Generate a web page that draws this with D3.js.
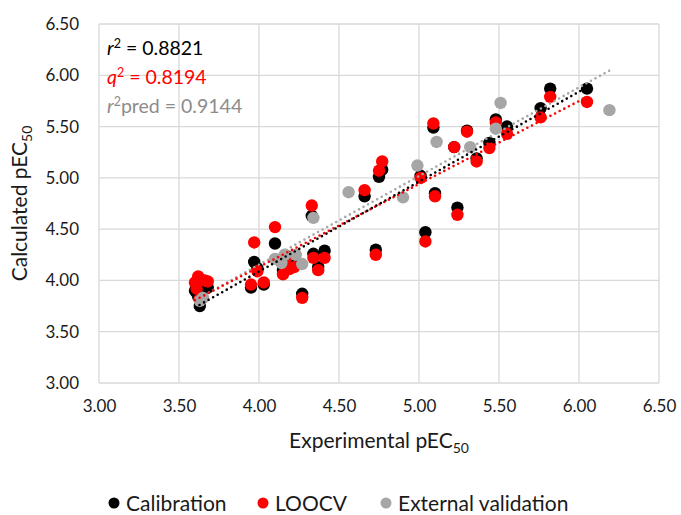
<!DOCTYPE html>
<html>
<head>
<meta charset="utf-8">
<script src="https://cdn.jsdelivr.net/npm/d3@7"></script>
<style>
  body { margin: 0; background: #fff; }
  text { font-family: Lato, "Open Sans", sans-serif; }
</style>
</head>
<body>
<div id="chart"></div>
<script>
// experimental pEC50 for the calibration compounds
const expCal = [3.60, 3.61, 3.62, 3.63, 3.66, 3.68, 3.95, 3.97, 3.99, 4.03,
  4.10, 4.15, 4.17, 4.19, 4.22, 4.27, 4.33, 4.34, 4.37, 4.41,
  4.66, 4.73, 4.75, 4.77, 5.01, 5.04, 5.09, 5.10, 5.22, 5.24,
  5.30, 5.36, 5.44, 5.48, 5.55, 5.76, 5.82, 6.05];
// calculated (fit)
const calcCal = [3.90, 3.88, 3.84, 3.75, 3.95, 3.93, 3.93, 4.18, 4.12, 3.96,
  4.36, 4.10, 4.24, 4.14, 4.17, 3.87, 4.63, 4.26, 4.13, 4.29,
  4.82, 4.30, 5.01, 5.08, 5.02, 4.47, 5.49, 4.85, 5.30, 4.71,
  5.46, 5.19, 5.34, 5.57, 5.50, 5.68, 5.87, 5.87];
// leave-one-out predictions
const calcLoo = [3.98, 3.92, 4.04, 3.82, 4.00, 3.99, 3.96, 4.37, 4.09, 3.98,
  4.52, 4.06, 4.22, 4.11, 4.13, 3.83, 4.73, 4.22, 4.10, 4.22,
  4.88, 4.25, 5.07, 5.16, 5.00, 4.38, 5.53, 4.82, 5.30, 4.64,
  5.45, 5.16, 5.29, 5.54, 5.43, 5.59, 5.79, 5.74];
// external validation set
const expExt = [3.63, 3.65, 4.10, 4.14, 4.16, 4.23, 4.27, 4.34, 4.56, 4.90,
  4.99, 5.11, 5.32, 5.48, 5.51, 6.19];
const calcExt = [3.80, 3.83, 4.21, 4.17, 4.25, 4.25, 4.16, 4.61, 4.86, 4.81,
  5.12, 5.35, 5.30, 5.48, 5.73, 5.66];

const ticks = [3.0, 3.5, 4.0, 4.5, 5.0, 5.5, 6.0, 6.5];
const seriesNames = ["Calibration", "LOOCV", "External validation"];
const colors = ["#000000", "#ff0000", "#a6a6a6"];

const series = [
  expCal.map((x, i) => ({ x: x, y: calcCal[i] })),
  expCal.map((x, i) => ({ x: x, y: calcLoo[i] })),
  expExt.map((x, i) => ({ x: x, y: calcExt[i] }))
];

let margin = { top: 24, right: 22, bottom: 132, left: 99 },
  width = 681 - margin.left - margin.right,
  height = 515 - margin.top - margin.bottom;

let root = d3.select("#chart")
  .append("svg")
  .attr("width", 681)
  .attr("height", 515);

let svg = root.append("g")
  .attr("transform", "translate(" + margin.left + "," + margin.top + ")");

let x = d3.scaleLinear().domain([3, 6.5]).range([0, width]);
let y = d3.scaleLinear().domain([3, 6.5]).range([height, 0]);

// gridlines
svg.append("g")
  .selectAll("line")
  .data(ticks)
  .enter()
  .append("line")
  .attr("x1", 0).attr("x2", width)
  .attr("y1", d => y(d)).attr("y2", d => y(d))
  .attr("stroke", "#d9d9d9")
  .attr("stroke-width", 1.3);

svg.append("g")
  .selectAll("line")
  .data(ticks)
  .enter()
  .append("line")
  .attr("y1", 0).attr("y2", height)
  .attr("x1", d => x(d)).attr("x2", d => x(d))
  .attr("stroke", "#d9d9d9")
  .attr("stroke-width", 1.3);

// axes (labels only)
let xAxis = svg.append("g")
  .attr("transform", "translate(0," + height + ")")
  .call(d3.axisBottom(x).tickValues(ticks).tickFormat(d3.format(".2f")).tickSize(0).tickPadding(17));
let yAxis = svg.append("g")
  .call(d3.axisLeft(y).tickValues(ticks).tickFormat(d3.format(".2f")).tickSize(0).tickPadding(20));
[xAxis, yAxis].forEach(a => {
  a.select(".domain").remove();
  a.selectAll("text")
    .style("font-family", "Lato, sans-serif")
    .style("font-size", "17px")
    .attr("fill", "#1a1a1a");
});

// points: black, then red, then grey
series.forEach((s, k) => {
  svg.append("g")
    .selectAll("circle")
    .data(s)
    .enter()
    .append("circle")
    .attr("cx", d => x(d.x))
    .attr("cy", d => y(d.y))
    .attr("r", 6.2)
    .attr("fill", colors[k]);
});

// linear trendlines (least squares), dotted
function fit(s) {
  let mx = d3.mean(s, d => d.x), my = d3.mean(s, d => d.y);
  let sxy = d3.sum(s, d => (d.x - mx) * (d.y - my));
  let sxx = d3.sum(s, d => (d.x - mx) * (d.x - mx));
  let b = sxy / sxx, a = my - b * mx;
  let ext = d3.extent(s, d => d.x);
  return ext.map(v => ({ x: v, y: a + b * v }));
}

[2, 1, 0].forEach(k => {
  svg.append("path")
    .datum(fit(series[k]))
    .attr("fill", "none")
    .attr("stroke", colors[k])
    .attr("stroke-width", 2.6)
    .attr("stroke-linecap", "round")
    .attr("stroke-dasharray", "0,5.2")
    .attr("d", d3.line().x(d => x(d.x)).y(d => y(d.y)));
});

// statistics text
let stats = [
  { sym: "r", sup: "2", rest: " = 0.8821", color: "#000000" },
  { sym: "q", sup: "2", rest: " = 0.8194", color: "#ff0000" },
  { sym: "r", sup: "2", rest: "pred = 0.9144", color: "#8c8c8c" }
];
stats.forEach((s, i) => {
  let t = root.append("text")
    .attr("x", 107)
    .attr("y", 55 + i * 29)
    .attr("fill", s.color)
    .style("font-size", "19.5px");
  t.append("tspan").style("font-style", "italic").text(s.sym);
  t.append("tspan").attr("dy", -7).style("font-size", "12.5px").text(s.sup);
  t.append("tspan").attr("dy", 7).text(s.rest);
});

// axis titles
let xt = root.append("text")
  .attr("x", margin.left + width / 2)
  .attr("y", 448)
  .attr("text-anchor", "middle")
  .attr("fill", "#1a1a1a")
  .style("font-size", "21px");
xt.append("tspan").text("Experimental pEC");
xt.append("tspan").attr("dy", 5).style("font-size", "14px").text("50");

let yt = root.append("text")
  .attr("transform", "translate(27," + (margin.top + height / 2) + ") rotate(-90)")
  .attr("text-anchor", "middle")
  .attr("fill", "#1a1a1a")
  .style("font-size", "21px");
yt.append("tspan").text("Calculated pEC");
yt.append("tspan").attr("dy", 5).style("font-size", "14px").text("50");

// legend
let legX = [114, 263, 386];
let leg = root.append("g");
seriesNames.forEach((n, i) => {
  leg.append("circle")
    .attr("cx", legX[i])
    .attr("cy", 503)
    .attr("r", 5.5)
    .attr("fill", colors[i]);
  leg.append("text")
    .attr("x", legX[i] + 12)
    .attr("y", 510.5)
    .attr("fill", "#1a1a1a")
    .style("font-size", "21px")
    .text(n);
});
</script>
</body>
</html>
